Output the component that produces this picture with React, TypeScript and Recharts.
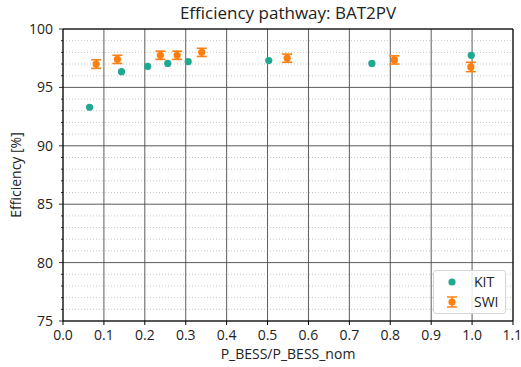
import React from 'react';
import {
  ScatterChart, Scatter, XAxis, YAxis, CartesianGrid, ErrorBar,
  ReferenceLine, Legend, Label,
} from 'recharts';

// KIT measurements
const kitX = [0.065, 0.143, 0.207, 0.256, 0.306, 0.503, 0.755, 0.998];
const kitY = [93.3, 96.35, 96.8, 97.05, 97.2, 97.3, 97.05, 97.75];

// SWI measurements with error
const swiX = [0.081, 0.133, 0.238, 0.279, 0.339, 0.548, 0.81, 0.997];
const swiY = [97.0, 97.4, 97.75, 97.75, 98.0, 97.5, 97.35, 96.75];
const swiErr = [0.37, 0.35, 0.35, 0.35, 0.35, 0.35, 0.35, 0.4];

const xTicks = [0, 0.1, 0.2, 0.3, 0.4, 0.5, 0.6, 0.7, 0.8, 0.9, 1.0, 1.1];
const yMajor = [75, 80, 85, 90, 95, 100];
const yAll = Array.from({ length: 26 }, (_, i) => 75 + i);
const yMinor = yAll.filter((v) => v % 5 !== 0);

const kitData = kitX.map((x, i) => ({ x, y: kitY[i] }));
const swiData = swiX.map((x, i) => ({ x, y: swiY[i], err: swiErr[i] }));

const KIT_COLOR = '#20a890';
const SWI_COLOR = '#ff7f0e';
const FONT = '"Open Sans", sans-serif';

const YTick = (props: any) => {
  const { x, y, payload } = props;
  const major = payload.value % 5 === 0;
  return (
    <g>
      <line x1={x} x2={x - (major ? 4 : 2)} y1={y} y2={y} stroke="#000" strokeWidth={0.8} />
      {major && (
        <text x={x - 10} y={y} dy={5} textAnchor="end" fontSize={14} fill="#222" fontFamily={FONT}>
          {payload.value}
        </text>
      )}
    </g>
  );
};

const Dot = (color: string) => (props: any) => (
  <circle cx={props.cx} cy={props.cy} r={3.6} fill={color} />
);

const LegendBox = () => (
  <div style={{
    width: 73, height: 44, border: '1px solid #d5d5d5', borderRadius: 3,
    background: 'rgba(255,255,255,0.85)', fontFamily: FONT, fontSize: 14,
    color: '#222', position: 'relative', boxSizing: 'border-box', lineHeight: '16px',
  }}>
    <svg width={30} height={44} style={{ position: 'absolute', left: 0, top: 0 }}>
      <circle cx={18} cy={11} r={3.6} fill={KIT_COLOR} />
      <line x1={18} x2={18} y1={26} y2={36} stroke={SWI_COLOR} strokeWidth={1.5} />
      <line x1={13} x2={23} y1={26} y2={26} stroke={SWI_COLOR} strokeWidth={1.5} />
      <line x1={13} x2={23} y1={36} y2={36} stroke={SWI_COLOR} strokeWidth={1.5} />
      <circle cx={18} cy={31} r={3.6} fill={SWI_COLOR} />
    </svg>
    <div style={{ position: 'absolute', left: 40, top: 3 }}>KIT</div>
    <div style={{ position: 'absolute', left: 40, top: 23 }}>SWI</div>
  </div>
);

export default function App() {
  return (
    <div style={{ position: 'absolute', left: 0, top: 0, width: 521, height: 367, background: '#fff' }}>
      <div style={{
        position: 'absolute', left: 63, width: 450, top: 3, textAlign: 'center',
        fontFamily: FONT, fontSize: 17, color: '#222', lineHeight: '20px',
      }}>
        Efficiency pathway: BAT2PV
      </div>
      <ScatterChart width={521} height={367} margin={{ top: 29, right: 8, bottom: 0, left: 0 }}>
        <CartesianGrid horizontalValues={yMinor} vertical={false} stroke="#b8b8b8" strokeDasharray="1 2" strokeWidth={0.8} />
        <CartesianGrid horizontalValues={yMajor} verticalValues={xTicks} stroke="#4a4a4a" strokeWidth={0.9} />
        <XAxis
          type="number" dataKey="x" domain={[0, 1.1]} ticks={xTicks}
          tickFormatter={(v: number) => v.toFixed(1)}
          allowDataOverflow height={46} stroke="#000" tickSize={4} tickMargin={5}
          tick={{ fontSize: 14, fill: '#222', fontFamily: FONT }}
        >
          <Label value="P_BESS/P_BESS_nom" position="insideBottom" offset={8} style={{ fontSize: 14, fill: '#222', fontFamily: FONT }} />
        </XAxis>
        <YAxis
          type="number" dataKey="y" domain={[75, 100]} ticks={yAll}
          allowDataOverflow width={63} stroke="#000" tickSize={0} tickMargin={0}
          tickLine={false} tick={<YTick />} interval={0}
        >
          <Label value="Efficiency [%]" angle={-90} position="insideLeft" offset={16} style={{ fontSize: 14, fill: '#222', fontFamily: FONT, textAnchor: 'middle' }} />
        </YAxis>
        <ReferenceLine y={100} stroke="#000" strokeWidth={1} />
        <ReferenceLine x={1.1} stroke="#000" strokeWidth={1} />
        <Scatter name="KIT" data={kitData} fill={KIT_COLOR} shape={Dot(KIT_COLOR)} isAnimationActive={false} />
        <Scatter name="SWI" data={swiData} fill={SWI_COLOR} shape={Dot(SWI_COLOR)} isAnimationActive={false}>
          <ErrorBar dataKey="err" direction="y" width={5} stroke={SWI_COLOR} strokeWidth={1.6} />
        </Scatter>
        <Legend
          layout="vertical" align="center" verticalAlign="middle"
          wrapperStyle={{ position: 'absolute', left: 433, top: 270, width: 73, height: 44 }}
          content={<LegendBox />}
        />
      </ScatterChart>
    </div>
  );
}
